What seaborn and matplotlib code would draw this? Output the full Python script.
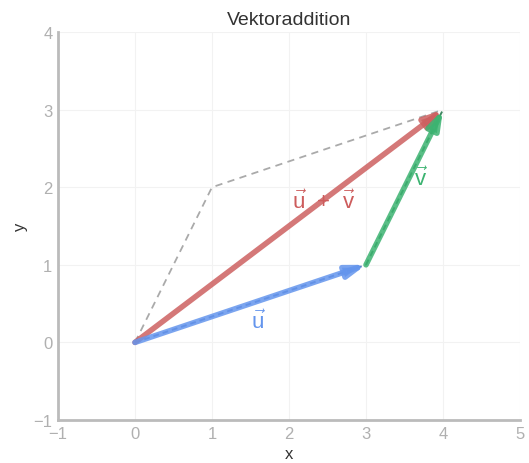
import matplotlib
matplotlib.use("Agg")
import matplotlib.pyplot as plt
import seaborn as sns
import pandas as pd

# Data
u = (3, 1)
v = (1, 2)
origin = (0, 0)
s = (u[0] + v[0], u[1] + v[1])
para_x = [0, 1, 4]
para_y = [0, 2, 3]
x_ticks = [-1, 0, 1, 2, 3, 4, 5]
y_ticks = [-1, 0, 1, 2, 3, 4]

sns.set_theme(style="whitegrid")
plt.rcParams['font.family'] = ['Liberation Sans', 'DejaVu Sans']
plt.rcParams['mathtext.fontset'] = 'custom'
plt.rcParams['mathtext.rm'] = 'Liberation Sans'
plt.rcParams['mathtext.it'] = 'Liberation Sans'

fig = plt.figure(figsize=(5.29, 4.64), dpi=100)
ax = fig.add_axes([0.1096, 0.0927, 0.8734, 0.836])

df = pd.DataFrame({"x": para_x, "y": para_y})
sns.lineplot(data=df, x="x", y="y", ax=ax, color="#aaaaaa", linestyle=(0, (4, 3)),
             linewidth=1.3, sort=False, estimator=None)

def arrow(start, end, color, dash=None):
    ax.annotate("", xy=end, xytext=start,
                arrowprops=dict(arrowstyle="-|>,head_length=0.9,head_width=0.3",
                                color=color, lw=4, alpha=0.85,
                                shrinkA=0, shrinkB=0))
    if dash:
        ax.plot([start[0], end[0]], [start[1], end[1]], color=dash,
                linestyle=(0, (3, 2)), lw=1.4, alpha=0.9)

arrow(origin, s, "#cd6060")
arrow(origin, u, "#6495ed", dash="#4a70b8")
arrow(u, s, "#3cb371", dash="#2a7a50")

ax.text(1.6, 0.27, r"$\vec{u}$", color="#6495ed", fontsize=16, ha="center", va="center", zorder=6)
ax.text(3.71, 2.11, r"$\vec{v}$", color="#3cb371", fontsize=16, ha="center", va="center", zorder=6)
ax.text(2.45, 1.82, r"$\vec{u}$  +  $\vec{v}$", color="#cd5c5c", fontsize=16, ha="center", va="center", zorder=6)

ax.set_xlim(-1, 5)
ax.set_ylim(-1, 4)
ax.set_xticks(x_ticks)
ax.set_yticks(y_ticks)
ax.set_xticklabels(["\u22121" if t < 0 else str(t) for t in x_ticks])
ax.set_yticklabels(["\u22121" if t < 0 else str(t) for t in y_ticks])
ax.tick_params(colors="#b0b0b0", labelsize=12, length=0, pad=4)
ax.grid(True, color="#f2f2f2", linewidth=0.8)
for side in ["top", "right"]:
    ax.spines[side].set_visible(False)
for side in ["left", "bottom"]:
    ax.spines[side].set_color("#bbbbbb")
    ax.spines[side].set_linewidth(2)
ax.set_xlabel("x", fontsize=12, color="#333333")
ax.set_ylabel("y", fontsize=12, color="#333333")
ax.set_title("Vektoraddition", fontsize=14, color="#333333")

fig.savefig("out.png", dpi=100)
